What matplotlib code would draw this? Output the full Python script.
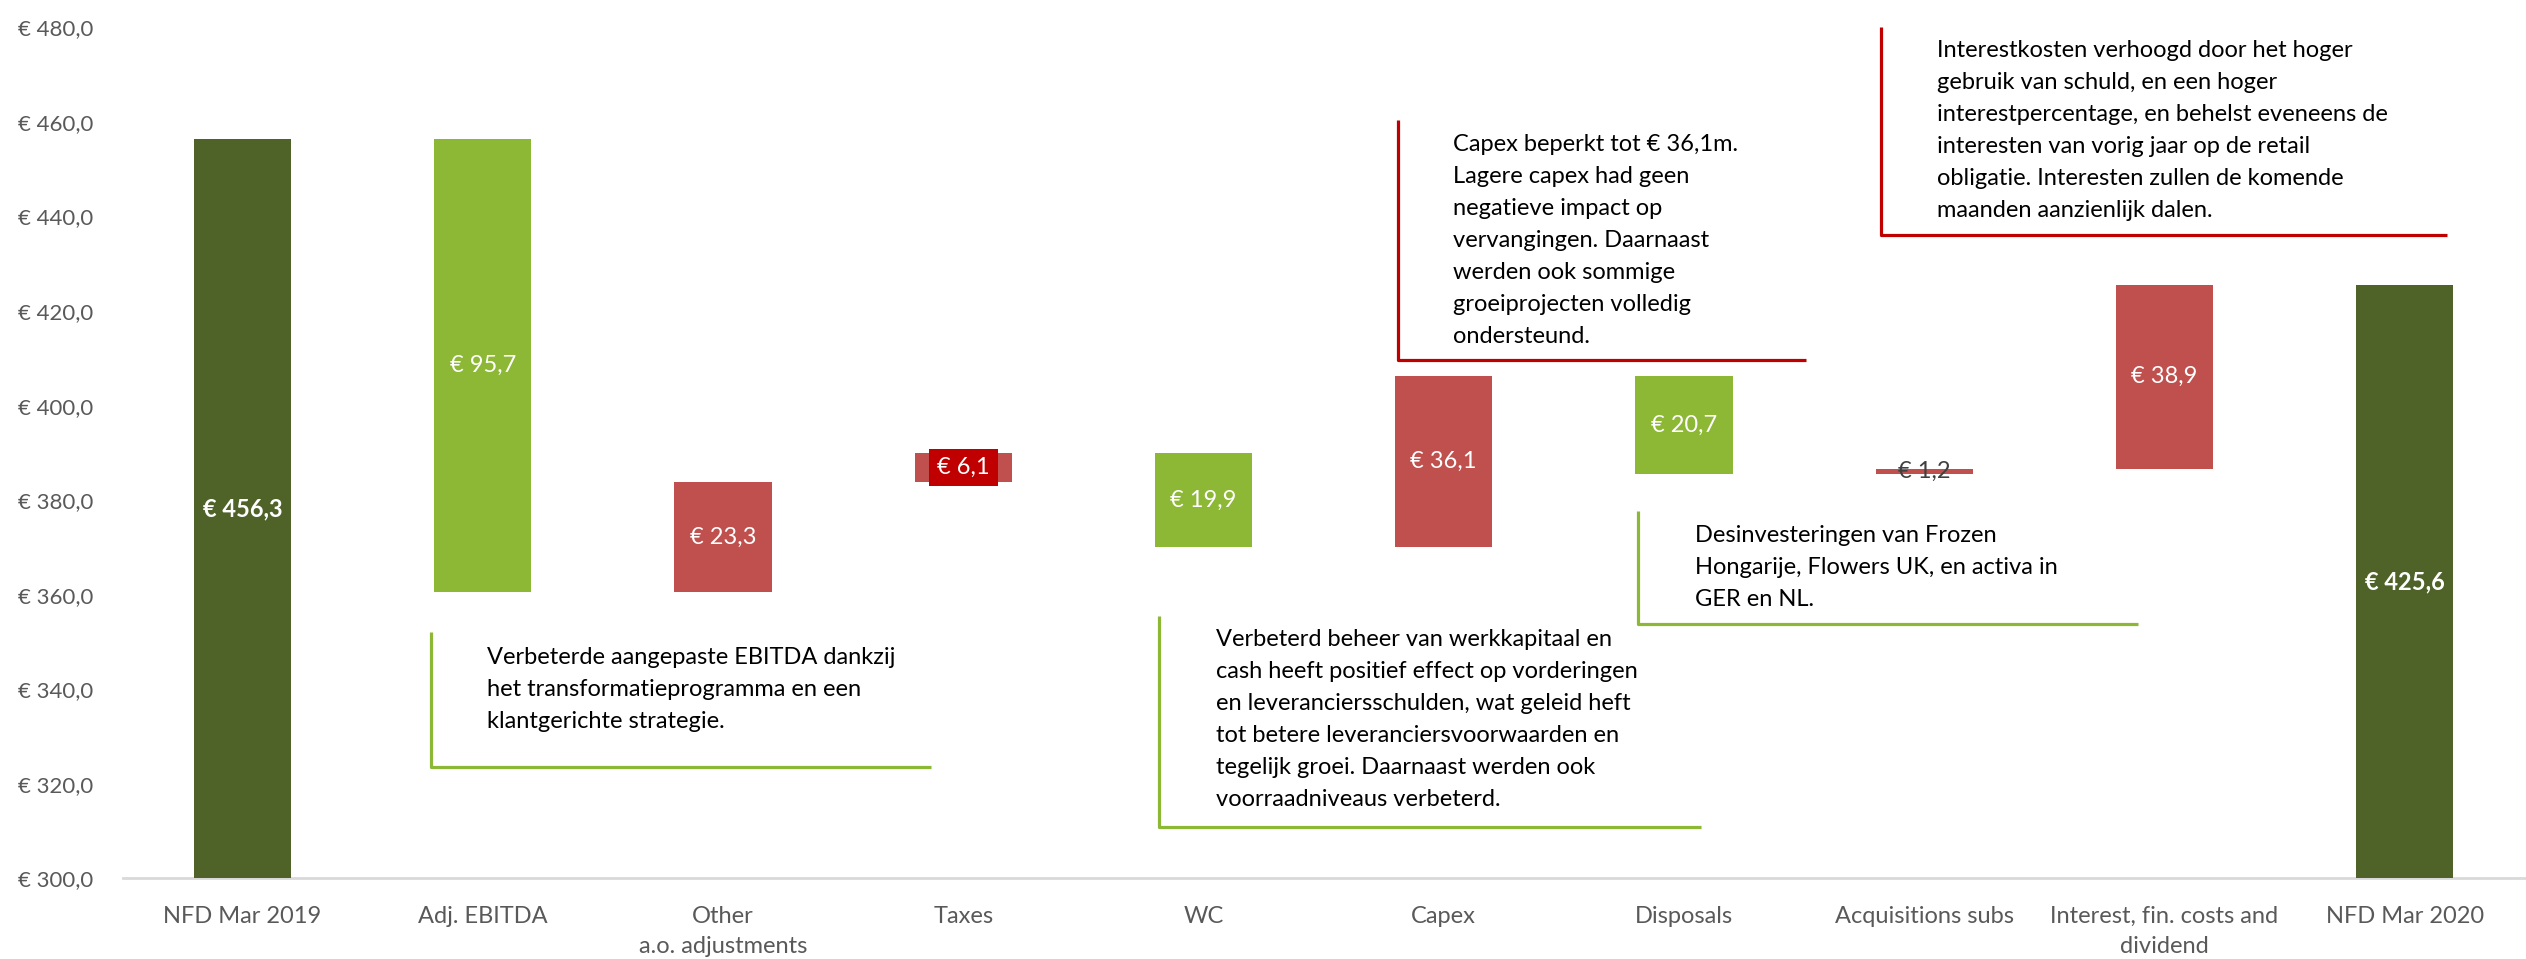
import matplotlib
matplotlib.use("Agg")
import matplotlib.pyplot as plt
import matplotlib.ticker as ticker
import numpy as np

plt.rcParams["font.family"] = ["Lato", "DejaVu Sans"]

# data
categories = ["NFD Mar 2019", "Adj. EBITDA", "Other\na.o. adjustments", "Taxes", "WC",
              "Capex", "Disposals", "Acquisitions subs", "Interest, fin. costs and\ndividend",
              "NFD Mar 2020"]
values = [456.3, 95.7, 23.3, 6.1, 19.9, 36.1, 20.7, 1.2, 38.9, 425.6]
kinds = ["total", "down", "up", "up", "down", "up", "down", "up", "up", "total"]

notes = [
    "Verbeterde aangepaste EBITDA dankzij\nhet transformatieprogramma en een\nklantgerichte strategie.",
    "Capex beperkt tot € 36,1m.\nLagere capex had geen\nnegatieve impact op\nvervangingen. Daarnaast\nwerden ook sommige\ngroeiprojecten volledig\nondersteund.",
    "Interestkosten verhoogd door het hoger\ngebruik van schuld, en een hoger\ninterestpercentage, en behelst eveneens de\ninteresten van vorig jaar op de retail\nobligatie. Interesten zullen de komende\nmaanden aanzienlijk dalen.",
    "Desinvesteringen van Frozen\nHongarije, Flowers UK, en activa in\nGER en NL.",
    "Verbeterd beheer van werkkapitaal en\ncash heeft positief effect op vorderingen\nen leveranciersschulden, wat geleid heft\ntot betere leveranciersvoorwaarden en\ntegelijk groei. Daarnaast werden ook\nvoorraadniveaus verbeterd.",
]
note_kinds = ["down", "up", "up", "down", "down"]

# colours
c_total = "#4F6228"
c_down = "#8DB836"
c_up = "#C0504D"
line_col = {"down": "#8DB836", "up": "#C00000"}

# waterfall geometry
bottoms, tops = [], []
level = 0.0
for v, k in zip(values, kinds):
    if k == "total":
        bottoms.append(0.0)
        tops.append(v)
        level = v
    elif k == "up":
        bottoms.append(level)
        tops.append(level + v)
        level += v
    else:
        bottoms.append(level - v)
        tops.append(level)
        level -= v
bottoms = np.array(bottoms)
tops = np.array(tops)
colors = [c_total if k == "total" else (c_up if k == "up" else c_down) for k in kinds]

fig = plt.figure(figsize=(25.26, 9.59), dpi=100)
ax = fig.add_axes([0.0485, 0.084, 0.951, 0.8874])

x = np.arange(len(categories))
ax.bar(x, tops - bottoms, bottom=bottoms, width=0.405, color=colors, zorder=2)

ymin, ymax = 300, 480
ax.set_ylim(ymin, ymax)
ax.set_xlim(-0.5, len(categories) - 0.5)

# value labels, centred on the visible part of each bar
for i, (v, k) in enumerate(zip(values, kinds)):
    lo = max(bottoms[i], ymin)
    yc = (lo + tops[i]) / 2
    txt = "€ " + f"{v:.1f}".replace(".", ",")
    if k == "total":
        ax.text(i, yc, txt, ha="center", va="center", color="white", fontsize=17,
                fontweight="bold", zorder=3)
    elif v < 3:
        # bar too thin for a label inside
        ax.text(i, yc, txt, ha="center", va="center", color="#404040", fontsize=17, zorder=3)
    elif v < 10:
        ax.text(i, yc, txt, ha="center", va="center", color="white", fontsize=17, zorder=3,
                bbox=dict(boxstyle="square,pad=0.35", fc="#C00000", ec="none"))
    else:
        ax.text(i, yc, txt, ha="center", va="center", color="white", fontsize=17, zorder=3)

# annotation brackets: (vline x, vline top, vline bottom, hline right, text x, text y-centre)
note_boxes = [
    (0.783, 352.1, 323.5, 2.865, 1.017, 339.9),
    (4.809, 460.4, 409.6, 6.510, 5.040, 435.0),
    (6.821, 480.0, 436.0, 9.177, 7.055, 458.2),
    (5.810, 377.7, 353.9, 7.892, 6.044, 365.8),
    (3.815, 355.6, 310.9, 6.071, 4.050, 333.6),
]
for (vx, vt, vb, hr, tx, ty), note, nk in zip(note_boxes, notes, note_kinds):
    ax.plot([vx, vx, hr], [vt, vb, vb], color=line_col[nk], lw=2.3, zorder=1,
            solid_capstyle="butt", clip_on=False)
    ax.text(tx, ty, note, ha="left", va="center", fontsize=17, color="black",
            linespacing=1.65)

# axes styling
ax.yaxis.set_major_locator(ticker.MultipleLocator(20))
ax.yaxis.set_major_formatter(ticker.FuncFormatter(lambda v, p: "€ " + f"{v:.1f}".replace(".", ",")))
ax.set_xticks(x)
ax.set_xticklabels(categories, linespacing=1.5)
ax.tick_params(axis="both", length=0, labelsize=17, labelcolor="#595959")
ax.tick_params(axis="y", pad=21, labelsize=16)
ax.tick_params(axis="x", pad=20)
for s in ["top", "right", "left"]:
    ax.spines[s].set_visible(False)
ax.spines["bottom"].set_color("#D9D9D9")
ax.spines["bottom"].set_linewidth(2)
ax.spines["bottom"].set_zorder(1)

fig.savefig("out.png", dpi=100)
